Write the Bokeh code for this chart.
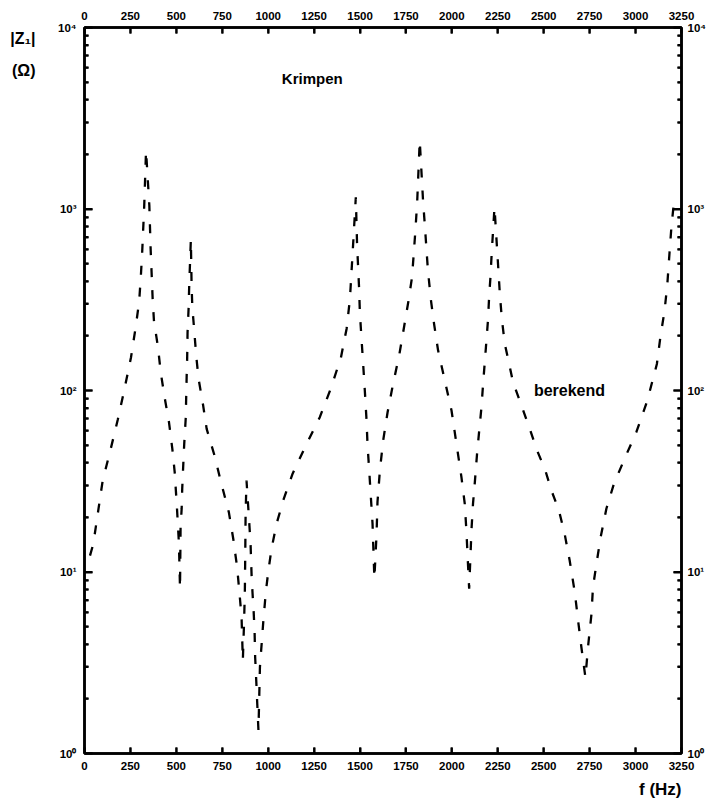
import math
from bokeh.plotting import figure
from bokeh.models import LinearAxis, LogAxis, FixedTicker, Label, Range1d, Title
from bokeh.embed import file_html
from bokeh.resources import INLINE

# ---- data: frequency (Hz) and |Z1| (ohm) ----
f_seg0 = [30, 48, 99, 143, 181, 215, 253, 280, 298, 307, 314, 325, 335]
z_seg0 = [12.3, 14.3, 31.9, 47.8, 69.0, 99, 152, 228, 313, 431, 578, 1033, 2099]

f_seg1 = [353, 360, 371, 378, 400, 415, 436, 460, 478, 491, 502, 514, 520]
z_seg1 = [1045, 604, 320, 243, 173, 126, 91.8, 66.8, 47.8, 35.5, 23.8, 14.4, 8.1]

f_seg2 = [523, 529, 532, 538, 543, 551, 556, 559, 561, 567, 570, 579]
z_seg2 = [17.6, 22.4, 28.8, 39.6, 51.0, 70.1, 118, 152, 209, 288, 379, 679]

f_seg3 = [583, 587, 596, 608, 621, 646, 665, 710, 743, 786, 810, 831, 844, 855, 862]
z_seg3 = [379, 288, 223, 156, 116, 82.6, 61.5, 43.0, 31.3, 21.3, 15.2, 10.6, 7.59, 5.64, 3.25]

f_seg4 = [869, 873, 875, 877, 882]
z_seg4 = [5.41, 7.91, 12.1, 20.9, 31.9]

f_seg5 = [895, 904, 910, 915, 921, 926, 929, 935, 942, 947]
z_seg5 = [20.0, 14.3, 9.35, 7.59, 6.01, 4.67, 3.40, 2.52, 1.73, 1.34]

f_seg6 = [955, 973, 987, 1000, 1018, 1046, 1082, 1133, 1209, 1281, 1340, 1396, 1427, 1445, 1454, 1462, 1477]
z_seg6 = [2.99, 5.28, 7.74, 9.98, 13.4, 18.5, 24.8, 34.8, 50.8, 71.3, 102, 152, 219, 320, 458, 630, 1161]

f_seg7 = [1484, 1490, 1495, 1499, 1508, 1517, 1526, 1535, 1541, 1550, 1559, 1568, 1578]
z_seg7 = [630, 469, 363, 270, 193, 140, 100, 69.8, 49.8, 36.2, 25.8, 18.5, 9.2]

f_seg8 = [1590, 1595, 1608, 1626, 1650, 1680, 1713, 1738, 1764, 1783, 1793, 1802, 1811, 1825]
z_seg8 = [16.2, 24.3, 36.2, 53.1, 75.9, 109, 156, 219, 313, 421, 578, 778, 1091, 2382]

f_seg9 = [1843, 1856, 1869, 1885, 1903, 1925, 1961, 1998, 2025, 2052, 2070, 2079, 2094]
z_seg9 = [1114, 729, 468, 320, 233, 166, 114, 77.6, 50.8, 33.3, 23.8, 16.9, 8.1]

f_seg10 = [2107, 2115, 2125, 2137, 2148, 2161, 2170, 2179, 2188, 2197, 2203, 2210, 2217, 2232]
z_seg10 = [17.3, 23.8, 31.3, 44.8, 58.9, 80.9, 109, 143, 188, 248, 333, 421, 578, 1023]

f_seg11 = [2255, 2261, 2272, 2288, 2310, 2333, 2369, 2424, 2464, 2509, 2542, 2583, 2614, 2641, 2669, 2687, 2705, 2727]
z_seg11 = [431, 341, 248, 181, 143, 111, 88.1, 61.5, 46.7, 36.2, 28.1, 21.8, 16.2, 11.6, 7.74, 5.41, 3.85, 2.62]

f_seg12 = [2741, 2760, 2768, 2787, 2810, 2841, 2882, 2944, 3004, 3064, 3116, 3135, 3158, 3173, 3185, 3195, 3207]
z_seg12 = [3.85, 5.89, 8.24, 11.1, 15.6, 22.3, 30.6, 43.0, 58.9, 88.1, 140, 197, 276, 387, 578, 794, 1045]

x_ticks = list(range(0, 3251, 250))
y_ticks = [1, 10, 100, 1000, 10000]
y_minor_ticks = [m * 10 ** d for d in range(4) for m in range(2, 10)]
y_tick_labels = {1: "10\u2070", 10: "10\u00b9", 100: "10\u00b2", 1000: "10\u00b3", 10000: "10\u2074"}
y_title_pos = [8650, 5800]
y_title_labels = {8650: "|Z\u2081|", 5800: "(\u03a9)"}

freq = (f_seg0 + f_seg1 + f_seg2 + f_seg3 + f_seg4 + f_seg5 + f_seg6 + f_seg7
        + f_seg8 + f_seg9 + f_seg10 + f_seg11 + f_seg12)
zabs = (z_seg0 + z_seg1 + z_seg2 + z_seg3 + z_seg4 + z_seg5 + z_seg6 + z_seg7
        + z_seg8 + z_seg9 + z_seg10 + z_seg11 + z_seg12)

FONT = "Liberation Sans"
X0, X1, Y0, Y1 = 0, 3250, 1, 10000

p = figure(width=708, height=807, y_axis_type="log",
           x_range=Range1d(X0, X1), y_range=Range1d(Y0, Y1),
           output_backend="svg", toolbar_location=None,
           min_border_left=84, min_border_right=26,
           min_border_top=27, min_border_bottom=54,
           x_axis_location=None, y_axis_location=None)
p.grid.visible = False
p.outline_line_color = "black"
p.outline_line_width = 2.5
p.background_fill_color = None
p.border_fill_color = None

yt = FixedTicker(ticks=y_ticks, minor_ticks=y_minor_ticks)
xt = FixedTicker(ticks=x_ticks)


def style_axis(ax, standoff):
    ax.axis_line_width = 2.5
    ax.axis_line_color = "black"
    ax.major_tick_line_width = 2
    ax.major_tick_line_color = "black"
    ax.minor_tick_line_width = 2
    ax.minor_tick_line_color = "black"
    ax.major_tick_in = 8
    ax.major_tick_out = 0
    ax.minor_tick_in = 4
    ax.minor_tick_out = 0
    ax.major_label_text_font = FONT
    ax.major_label_text_font_style = "bold"
    ax.major_label_text_font_size = "11.5px"
    ax.major_label_text_color = "black"
    ax.major_label_standoff = standoff


for loc in ("below", "above"):
    ax = LinearAxis(ticker=xt)
    style_axis(ax, 8)
    ax.major_tick_in = 6
    ax.minor_tick_line_color = None
    p.add_layout(ax, loc)

for loc in ("left", "right"):
    ax = LogAxis(ticker=yt)
    style_axis(ax, 8 if loc == "left" else 6)
    ax.major_label_overrides = y_tick_labels
    p.add_layout(ax, loc)

# y-axis title "|Z1| (Ω)" as an outer label-only axis at the upper left
title_axis = LogAxis(ticker=FixedTicker(ticks=y_title_pos, minor_ticks=[]))
title_axis.axis_line_color = None
title_axis.major_tick_line_color = None
title_axis.minor_tick_line_color = None
title_axis.major_label_overrides = y_title_labels
title_axis.major_label_text_font = FONT
title_axis.major_label_text_font_style = "bold"
title_axis.major_label_text_font_size = "16px"
title_axis.major_label_text_color = "black"
title_axis.major_label_standoff = 14
p.add_layout(title_axis, "left")

# inward tick marks (drawn from the tick lists at the frame edges)
tick_style = dict(line_color="black", line_width=2, length_units="screen")
p.ray(x=[X0] * len(y_ticks), y=y_ticks, length=8, angle=0, **tick_style)
p.ray(x=[X1] * len(y_ticks), y=y_ticks, length=8, angle=math.pi, **tick_style)
p.ray(x=[X0] * len(y_minor_ticks), y=y_minor_ticks, length=4, angle=0, **tick_style)
p.ray(x=[X1] * len(y_minor_ticks), y=y_minor_ticks, length=4, angle=math.pi, **tick_style)
p.ray(x=x_ticks, y=[Y0] * len(x_ticks), length=6, angle=math.pi / 2, **tick_style)
p.ray(x=x_ticks, y=[Y1] * len(x_ticks), length=6, angle=-math.pi / 2, **tick_style)

p.line(freq, zabs, line_color="black", line_width=2.3, line_dash="9 13")

lab_style = dict(text_font=FONT, text_font_style="bold", text_color="black")
p.add_layout(Label(x=1240, y=10 ** 3.72, text="Krimpen", text_font_size="15px",
                   text_align="center", text_baseline="middle", **lab_style))
p.add_layout(Label(x=2640, y=100, text="berekend", text_font_size="16px",
                   text_align="center", text_baseline="middle", **lab_style))

# x-axis title, right-aligned under the frame
p.add_layout(Title(text="f (Hz)", align="right", text_font=FONT, text_font_style="bold",
                   text_font_size="17px", text_color="black", standoff=10), "below")

open("out.html", "w").write(file_html(p, INLINE))
